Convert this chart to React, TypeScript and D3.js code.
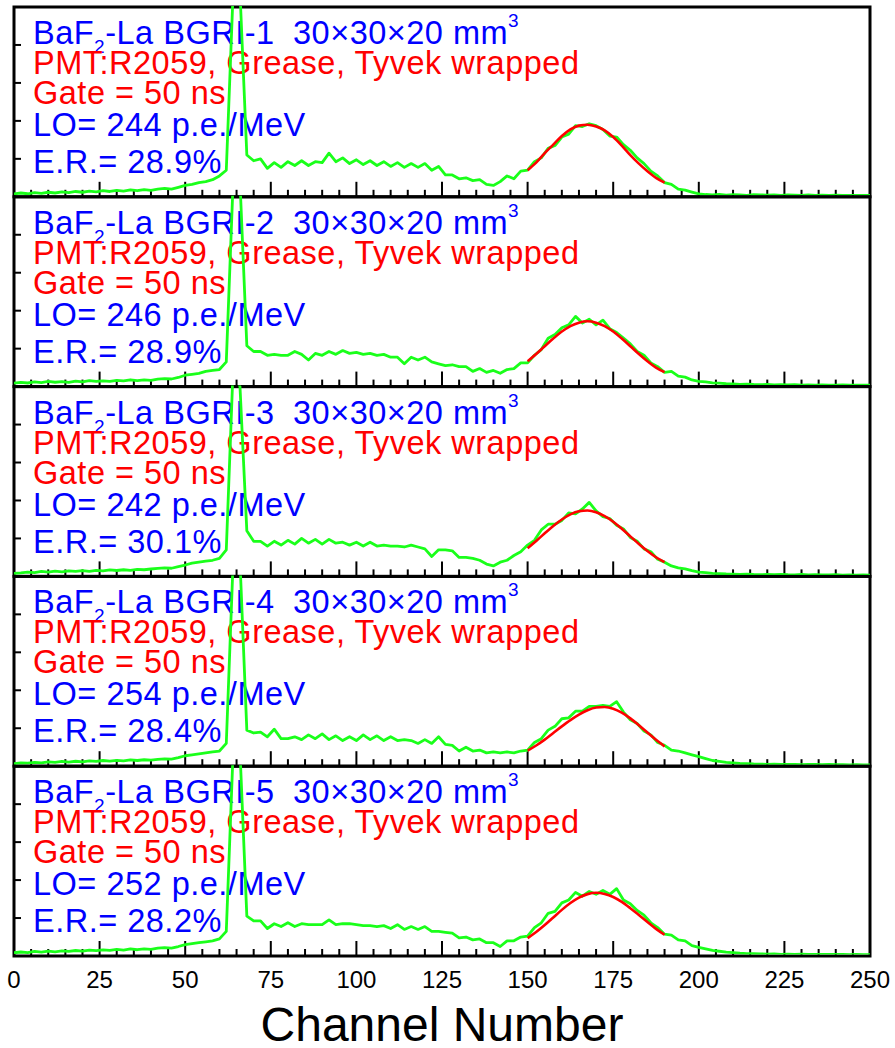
import React from "react";
import * as d3 from "d3";

// spectra sampled every 2 channels (0..250), normalised to panel height = 100
const channels = d3.range(0, 251, 2);
const fitChannels = [150, 152.5, 155, 157.5, 160, 162.5, 165, 167.5, 170, 172.5, 175, 177.5, 180, 182.5, 185, 187.5, 190];

const crystalNames = ["BGRI-1", "BGRI-2", "BGRI-3", "BGRI-4", "BGRI-5"];
const lightOutputs = [244, 246, 242, 254, 252];
const energyRes = ["28.9", "28.9", "30.1", "28.4", "28.2"];
const xTickLabels = [0, 25, 50, 75, 100, 125, 150, 175, 200, 225, 250];
const yTicks = [20, 40, 60, 80];

const spectrum1 = [
  1.5, 2.0, 1.6, 2.2, 1.8, 2.4, 2.0, 2.6, 2.2, 2.8,
  2.4, 3.0, 2.6, 3.2, 2.8, 3.4, 3.0, 3.6, 3.2, 3.8,
  3.4, 4.0, 4.4, 4.0, 5.0, 6.0, 6.5, 7.5, 8.0, 9.0,
  11.0, 14.0, 108, 108, 22, 19, 20, 15, 18, 15.5,
  18.5, 16.5, 19, 16.5, 18.5, 18, 23, 18.5, 20.5, 17.5,
  19.5, 17, 19, 16.5, 18.5, 16, 18, 15.5, 17.5, 15.5,
  17.5, 14, 16, 11.5, 11.5, 9.5, 10, 8.5, 9, 6.5,
  6, 8, 11, 9.5, 13.5, 14, 18.5, 20.5, 25.5, 27,
  31.5, 33, 37.5, 37, 38.5, 37.5, 35.5, 32, 31.5, 27.5,
  24.5, 20.5, 17.5, 13.5, 11, 7.5, 6.5, 4, 3.5, 2.5,
  1.5, 1.2, 1.0, 1.3, 0.9, 1.1, 1.0, 0.8, 1.1, 1.0,
  0.9, 1.0, 0.8, 1.0, 0.9, 0.8, 1.0, 0.8, 0.9, 0.8,
  0.9, 0.8, 0.8, 0.7, 0.8, 0.7,
];
const spectrum2 = [
  1.8, 2.2, 1.9, 2.5, 2.1, 2.7, 2.3, 2.6, 2.2, 2.9,
  2.5, 3.1, 2.7, 3.0, 2.8, 3.3, 3.0, 3.6, 3.2, 3.5,
  3.3, 3.9, 4.2, 4.0, 4.8, 6.0, 6.5, 7.0, 8.0, 8.5,
  9.0, 13, 108, 108, 21.5, 18.5, 18.5, 16.5, 17, 16.5,
  16.5, 18.5, 17, 14, 17.5, 16.5, 18.5, 17, 19, 17.5,
  18, 17, 17.5, 16.5, 17, 15.5, 15.5, 12, 15.5, 14,
  15.5, 13, 12, 11, 11.5, 10.5, 10.5, 8, 9.5, 7.5,
  8.5, 7, 9, 9.5, 12.5, 12.5, 16.5, 19.5, 25.5, 27.5,
  31, 32.5, 37, 33.5, 35.5, 32.5, 35, 30.5, 28.5, 25.5,
  22.5, 18.5, 16.5, 12.5, 10.5, 7.5, 8, 5.5, 5, 3.5,
  2.8, 2.5, 2.0, 1.8, 1.5, 1.4, 1.2, 1.3, 1.1, 1.0,
  1.1, 0.9, 1.0, 0.9, 1.0, 0.8, 0.9, 0.8, 0.9, 0.8,
  0.8, 0.9, 0.7, 0.8, 0.7, 0.7,
];
const spectrum3 = [
  1.6, 1.9, 2.3, 2.0, 2.6, 2.2, 2.8, 2.4, 2.9, 2.6,
  3.0, 2.7, 3.2, 2.9, 3.4, 3.1, 3.5, 3.2, 3.7, 3.5,
  3.9, 4.2, 4.5, 4.3, 5.2, 6.0, 7.0, 7.5, 8.0, 8.5,
  9.5, 14, 110, 100, 24, 18.5, 18.5, 16, 18.5, 16.5,
  19, 17, 20, 17.5, 19.5, 17, 19.5, 17.5, 18, 16.5,
  18, 16, 18, 16, 16.5, 16, 16, 15.5, 16.5, 15.5,
  14.5, 10.5, 14, 14, 13.5, 10, 10, 9.5, 8.5, 6.5,
  5.5, 7.5, 8.5, 11, 13, 16.5, 19, 24.5, 27.5, 27.5,
  29.5, 33.5, 33, 35.5, 39, 34.5, 31.5, 30.5, 27, 25,
  20.5, 18.5, 14.5, 13, 9, 7.5, 5.5, 4.5, 4, 3,
  2.3, 2.0, 1.6, 1.5, 1.3, 1.2, 1.1, 1.2, 1.0, 0.9,
  1.0, 0.9, 1.1, 0.9, 0.8, 1.0, 0.8, 0.9, 0.8, 0.8,
  0.9, 0.7, 0.8, 0.7, 0.8, 0.7,
];
const spectrum4 = [
  1.4, 1.8, 1.6, 2.0, 1.8, 2.3, 2.0, 2.5, 2.2, 2.6,
  2.3, 2.8, 2.5, 3.0, 2.7, 3.1, 2.8, 3.3, 3.0, 3.4,
  3.2, 3.6, 3.9, 3.7, 4.5, 5.5, 6.0, 6.5, 7.0, 7.5,
  8.0, 12, 108, 108, 19, 17.5, 18, 15.5, 19.5, 14.5,
  14.5, 15.5, 14, 16.5, 14.5, 17, 14, 16, 13.5, 15.5,
  13.5, 16.5, 14, 16, 13.5, 15.5, 13.5, 14, 13.5, 12,
  14, 12, 15.5, 11.5, 11, 8, 10, 8, 8.5, 7,
  7.5, 7, 7.5, 7, 8, 8.5, 12.5, 14.5, 19, 21,
  25, 25.5, 29, 29, 31.5, 31.5, 32, 31.5, 34, 28.5,
  24.5, 22.5, 18.5, 16.5, 12.5, 11, 8.5, 8, 7, 6,
  5, 4, 3, 2.5, 2, 1.8, 1.5, 1.4, 1.2, 1.1,
  1.0, 1.1, 0.9, 1.0, 0.9, 0.8, 1.0, 0.9, 0.8, 0.9,
  0.8, 0.8, 0.7, 0.8, 0.7, 0.7,
];
const spectrum5 = [
  1.7, 2.1, 1.8, 2.4, 2.0, 2.6, 2.2, 2.7, 2.4, 2.9,
  2.6, 3.1, 2.8, 3.2, 3.0, 3.5, 3.1, 3.7, 3.3, 3.8,
  3.5, 4.1, 4.4, 4.2, 5.0, 6.0, 6.5, 7.0, 7.5, 8.0,
  9.0, 13, 108, 108, 21, 18.5, 18.5, 14.5, 17, 15.5,
  17.5, 15.5, 17, 16.5, 16.5, 16.5, 19, 16.5, 17, 17,
  16.5, 16, 16, 15.5, 16, 14.5, 16.5, 14, 15.5, 14,
  15.5, 13, 13, 12.5, 12, 9.5, 10, 8.5, 9, 7,
  7, 5, 8, 8, 10, 10.5, 15, 17.5, 22.5, 23.5,
  28, 29.5, 33.5, 31.5, 34, 32.5, 34.5, 32.5, 35.5, 29.5,
  27.5, 24, 21.5, 17.5, 15, 11.5, 11, 8.5, 8, 5.5,
  4.6, 3.8, 3.0, 2.5, 2.0, 1.8, 1.5, 1.3, 1.2, 1.1,
  1.0, 1.1, 0.9, 1.0, 0.9, 1.0, 0.8, 0.9, 0.8, 0.9,
  0.8, 0.8, 0.7, 0.8, 0.7, 0.7,
];

// gaussian fits (red), read at fitChannels
const fit1 = [14, 18, 23, 27.5, 32, 35.5, 37.5, 38, 37, 35, 31.5, 27, 22, 17.5, 13.5, 10, 7.5];
const fit2 = [13.4, 17.2, 21.3, 25.3, 29, 31.9, 33.7, 34.4, 33.7, 31.9, 29, 25.3, 21.3, 17.2, 13.4, 10, 7.6];
const fit3 = [14.8, 18.7, 22.7, 26.6, 30, 32.7, 34.3, 34.7, 33.8, 31.7, 28.8, 25.1, 21.1, 17.1, 13.4, 10.1, 7.5];
const fit4 = [8.2, 10.9, 14, 17.5, 21, 24.3, 27.2, 29.5, 30.9, 31.2, 30.3, 28.2, 25.2, 21.6, 17.7, 13.9, 10.4];
const fit5 = [9.4, 12.6, 16.3, 20.3, 24.3, 27.9, 30.8, 32.6, 33.3, 32.7, 31.1, 28.5, 25.2, 21.6, 17.9, 14.3, 11.2];

const spectra = [spectrum1, spectrum2, spectrum3, spectrum4, spectrum5];
const fits = [fit1, fit2, fit3, fit4, fit5];

const W = 895;
const H = 1048;
const left = 14;
const right = 870;
const top0 = 7;
const panelH = 189.8;
const font = "Arial, 'Liberation Sans', sans-serif";
const GREEN = "#1aff1a";
const RED = "#ff0000";
const BLUE = "#0000ff";

export default function App() {
  const x = d3.scaleLinear().domain([0, 250]).range([left, right]);
  const minorTicks = d3.range(5, 250, 5);

  return (
    <svg width={W} height={H} style={{ position: "absolute", left: 0, top: 0, background: "#fff" }} fontFamily={font}>
      <defs>
        {spectra.map((_, i) => {
          const t = top0 + i * panelH;
          return (
            <clipPath id={`clip${i}`} key={i}>
              <rect x={left} y={t - 1} width={right - left} height={panelH - 0.5} />
            </clipPath>
          );
        })}
      </defs>
      {spectra.map((spec, i) => {
        const t = top0 + i * panelH;
        const b = t + panelH;
        const y = d3.scaleLinear().domain([0, 100]).range([b, t]);
        const line = d3
          .line<number>()
          .x((_, j) => x(channels[j]))
          .y((d) => y(d));
        const fitLine = d3
          .line<number>()
          .x((_, j) => x(fitChannels[j]))
          .y((d) => y(d))
          .curve(d3.curveMonotoneX);
        return (
          <g key={i}>
            <rect x={left} y={t} width={right - left} height={panelH} fill="none" stroke="#000" strokeWidth={3} />
            {minorTicks.map((v) => (
              <line
                key={v}
                x1={x(v)}
                x2={x(v)}
                y1={b}
                y2={b - (v % 25 === 0 ? 15 : 7)}
                stroke="#000"
                strokeWidth={2}
              />
            ))}
            {yTicks.map((v) => (
              <line key={v} x1={left} x2={left + 7} y1={y(v)} y2={y(v)} stroke="#000" strokeWidth={2} />
            ))}
            <g fontSize={32.5} letterSpacing={0.5}>
              <text x={33} y={t + 37} fill={BLUE}>
                BaF
                <tspan dy={9} fontSize={19}>2</tspan>
                <tspan dy={-9}>-La {crystalNames[i]}</tspan>
                <tspan x={293}>30×30×20 mm</tspan>
                <tspan dy={-17} fontSize={19}>3</tspan>
              </text>
              <text x={33} y={t + 67} fill={RED}>PMT:R2059, Grease, Tyvek wrapped</text>
              <text x={33} y={t + 97} fill={RED}>Gate = 50 ns</text>
              <text x={33} y={t + 129} fill={BLUE}>LO= {lightOutputs[i]} p.e./MeV</text>
              <text x={33} y={t + 166} fill={BLUE}>E.R.= {energyRes[i]}%</text>
            </g>
            <g clipPath={`url(#clip${i})`}>
              <path d={line(spec) ?? ""} fill="none" stroke={GREEN} strokeWidth={2.8} strokeLinejoin="round" />
            </g>
            <path d={fitLine(fits[i]) ?? ""} fill="none" stroke={RED} strokeWidth={2.6} />
          </g>
        );
      })}
      {xTickLabels.map((v) => (
        <text key={v} x={x(v)} y={988} fontSize={24} textAnchor="middle" fill="#000">
          {v}
        </text>
      ))}
      <text x={(left + right) / 2} y={1041} fontSize={48} textAnchor="middle" fill="#000">
        Channel Number
      </text>
    </svg>
  );
}
